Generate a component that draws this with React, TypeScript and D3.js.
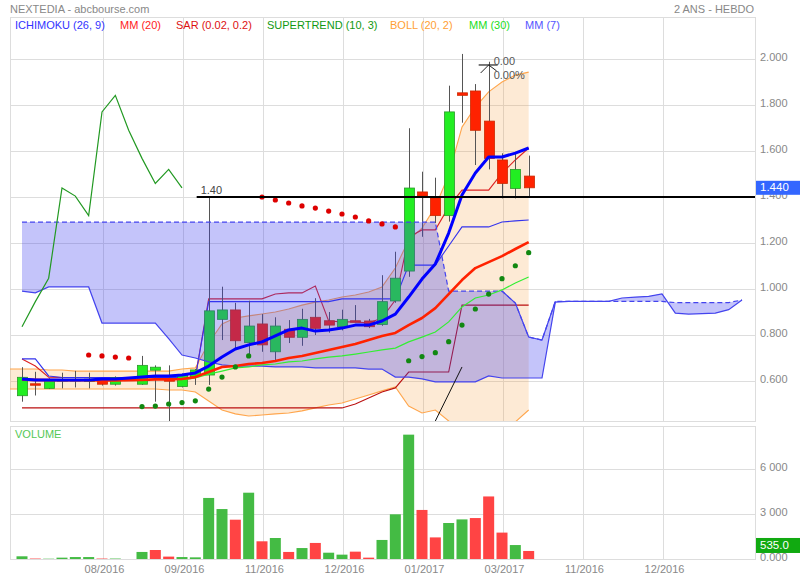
import React from "react";
import * as d3 from "d3";

// ---------- DATA ----------
const opens = [0.536, 0.588, 0.568, 0.6, 0.6, 0.598, 0.601, 0.586, 0.608, 0.586, 0.647, 0.609, 0.576, 0.619, 0.626, 0.868, 0.909, 0.767, 0.848, 0.727, 0.825, 0.79, 0.877, 0.862, 0.836, 0.862, 0.861, 0.846, 0.948, 1.078, 1.422, 1.396, 1.319, 1.853, 1.861, 1.73, 1.561, 1.437, 1.491];
const highs = [0.66, 0.64, 0.612, 0.636, 0.644, 0.636, 0.606, 0.62, 0.612, 0.709, 0.668, 0.668, 0.632, 0.652, 1.4, 1.01, 0.94, 0.949, 0.891, 0.877, 0.865, 0.914, 0.96, 0.9, 0.91, 0.93, 0.87, 1.06, 1.162, 1.699, 1.51, 1.484, 1.884, 2.022, 1.891, 1.988, 1.59, 1.59, 1.58];
const lows = [0.51, 0.537, 0.565, 0.568, 0.572, 0.568, 0.58, 0.58, 0.604, 0.583, 0.51, 0.4, 0.572, 0.583, 0.583, 0.778, 0.735, 0.7, 0.727, 0.691, 0.765, 0.753, 0.8, 0.81, 0.82, 0.855, 0.83, 0.84, 0.94, 1.053, 1.227, 1.287, 1.293, 1.723, 1.539, 1.52, 1.394, 1.394, 1.4];
const closes = [0.616, 0.584, 0.604, 0.606, 0.607, 0.608, 0.586, 0.615, 0.608, 0.668, 0.66, 0.599, 0.627, 0.648, 0.905, 0.909, 0.775, 0.839, 0.757, 0.839, 0.79, 0.868, 0.829, 0.843, 0.868, 0.86, 0.836, 0.945, 1.047, 1.439, 1.404, 1.319, 1.77, 1.842, 1.69, 1.568, 1.459, 1.52, 1.44];
const volumes = [180, 30, 20, 90, 130, 130, 30, 30, 0, 470, 600, 160, 130, 110, 4070, 3330, 2620, 4420, 1180, 1400, 470, 730, 1070, 420, 290, 490, 90, 1270, 2980, 8290, 3270, 1440, 2400, 2640, 2730, 4170, 1760, 930, 535];

const mm7 = [0.609, 0.604, 0.604, 0.604, 0.604, 0.604, 0.609, 0.609, 0.613, 0.617, 0.622, 0.622, 0.626, 0.635, 0.665, 0.704, 0.739, 0.757, 0.77, 0.796, 0.822, 0.83, 0.817, 0.822, 0.83, 0.843, 0.843, 0.861, 0.891, 0.965, 1.043, 1.109, 1.243, 1.409, 1.504, 1.574, 1.574, 1.591, 1.613];
const mm20 = [0.606, 0.605, 0.604, 0.603, 0.603, 0.603, 0.602, 0.602, 0.603, 0.605, 0.607, 0.607, 0.609, 0.617, 0.639, 0.661, 0.665, 0.674, 0.678, 0.687, 0.7, 0.709, 0.722, 0.735, 0.748, 0.761, 0.778, 0.796, 0.809, 0.843, 0.874, 0.917, 0.978, 1.039, 1.091, 1.117, 1.143, 1.174, 1.204];
const mm30 = [null, null, null, null, null, null, null, null, null, null, null, null, 0.604, 0.613, 0.63, 0.643, 0.657, 0.661, 0.67, 0.674, 0.683, 0.687, 0.696, 0.704, 0.709, 0.717, 0.726, 0.735, 0.743, 0.77, 0.791, 0.813, 0.857, 0.922, 0.961, 0.974, 0.996, 1.026, 1.052];
// Bollinger bands start one week before the first candle
const bollUpper = [0.652, 0.652, 0.652, 0.648, 0.648, 0.643, 0.643, 0.643, 0.643, 0.643, 0.643, 0.643, 0.643, 0.652, 0.657, 0.765, 0.848, 0.874, 0.883, 0.891, 0.9, 0.913, 0.93, 0.943, 0.952, 0.965, 0.974, 0.987, 1.009, 1.091, 1.213, 1.265, 1.357, 1.496, 1.704, 1.791, 1.857, 1.9, 1.93, 1.943];
const bollLower = [0.565, 0.565, 0.565, 0.565, 0.565, 0.565, 0.565, 0.565, 0.565, 0.565, 0.565, 0.565, 0.561, 0.561, 0.552, 0.513, 0.474, 0.457, 0.448, 0.452, 0.457, 0.461, 0.47, 0.483, 0.496, 0.504, 0.522, 0.539, 0.557, 0.574, 0.491, 0.461, 0.474, 0.426, 0.378, 0.343, 0.343, 0.361, 0.422, 0.474];
const tenkan = [0.696, 0.665, 0.617, 0.615, 0.615, 0.615, 0.615, 0.615, 0.615, 0.615, 0.615, 0.615, 0.615, 0.615, 0.957, 0.957, 0.957, 0.957, 0.957, 0.978, 0.983, 0.983, 1.013, 0.861, 0.857, 0.857, 0.852, 0.874, 0.952, 1.226, 1.257, 1.257, 1.357, 1.43, 1.43, 1.43, 1.504, 1.561, 1.613];
const kijun = [0.696, 0.696, 0.622, 0.615, 0.615, 0.615, 0.615, 0.615, 0.615, 0.615, 0.615, 0.615, 0.615, 0.615, 0.945, 0.945, 0.945, 0.945, 0.945, 0.945, 0.945, 0.945, 0.945, 0.945, 0.957, 0.957, 0.957, 0.957, 0.957, 1.104, 1.104, 1.104, 1.187, 1.27, 1.27, 1.27, 1.291, 1.296, 1.3];
const supertrend = [0.483, 0.483, 0.483, 0.483, 0.483, 0.483, 0.483, 0.483, 0.483, 0.483, 0.483, 0.483, 0.483, 0.483, 0.483, 0.483, 0.483, 0.483, 0.483, 0.483, 0.483, 0.483, 0.483, 0.483, 0.483, 0.5, 0.526, 0.552, 0.57, 0.639, 0.639, 0.639, 0.639, 0.93, 0.93, 0.93, 0.93, 0.93, 0.93];
const sar = [null, null, null, null, null, 0.713, 0.709, 0.704, 0.7, 0.489, 0.491, 0.5, 0.506, 0.514, 0.565, 0.617, 0.661, 0.709, 1.4, 1.387, 1.374, 1.361, 1.352, 1.339, 1.326, 1.313, 1.296, 1.283, 1.27, 0.688, 0.706, 0.723, 0.771, 0.843, 0.913, 0.978, 1.045, 1.101, 1.158];
const senkouA = [0.991, 0.983, 1.009, 1.009, 1.009, 1.009, 0.852, 0.852, 0.852, 0.852, 0.852, 0.784, 0.713, 0.7, 0.683, 0.67, 0.665, 0.665, 0.665, 0.661, 0.661, 0.661, 0.657, 0.657, 0.657, 0.657, 0.652, 0.652, 0.617, 0.617, 0.609, 0.596, 0.596, 0.596, 0.596, 0.622, 0.613, 0.613, 0.613, 0.613, 0.943, 0.946, 0.946, 0.946, 0.946, 0.961, 0.965, 0.968, 0.979, 0.895, 0.891, 0.893, 0.895, 0.91, 0.952];
const senkouB = [1.291, 1.291, 1.291, 1.291, 1.291, 1.291, 1.291, 1.291, 1.291, 1.291, 1.291, 1.291, 1.291, 1.291, 1.291, 1.291, 1.291, 1.291, 1.291, 1.291, 1.291, 1.291, 1.291, 1.291, 1.291, 1.291, 1.291, 1.291, 1.291, 1.291, 1.291, 1.291, 0.991, 0.991, 0.991, 0.991, 0.991, 0.939, 0.791, 0.778, 0.946, 0.946, 0.946, 0.946, 0.946, 0.946, 0.946, 0.946, 0.946, 0.941, 0.941, 0.941, 0.941, 0.941, 0.952];

const priceTicks = [2.0, 1.8, 1.6, 1.4, 1.2, 1.0, 0.8, 0.6];
const volumeTicks = [0, 3000, 6000];
const volumeTickLabels = ["0.000", "3 000", "6 000"];
const dateTickIdx = [6, 12, 18, 24, 30, 36, 42, 48];
const dateTickLabels = ["08/2016", "09/2016", "11/2016", "12/2016", "01/2017", "03/2017", "11/2016", "12/2016"];

const legendLabels = ["ICHIMOKU (26, 9)", "MM (20)", "SAR (0.02, 0.2)", "SUPERTREND (10, 3)", "BOLL (20, 2)", "MM (30)", "MM (7)"];
const titleText = "NEXTEDIA - abcbourse.com";
const periodText = "2 ANS - HEBDO";

const levelLine = { value: 1.4, fromIdx: 13.1, label: "1.40" };
const trendLine = [{ idx: 31, value: 0.426 }, { idx: 33, value: 0.661 }];
const arrowMark = { idx: 35, value: 1.974, labels: ["0.00", "0.00%"] };

// ---------- LAYOUT / STYLE ----------
const FONT = "'Liberation Sans', Arial, Helvetica, sans-serif";
const legendX = [15, 120, 176, 267, 390, 469, 525];
const legendColors = ["#3333ff", "#ff2222", "#dd1111", "#119911", "#ffa033", "#22dd22", "#5555ff"];
const L = 10, R = 755, T = 17, B = 421, VT = 426, VB = 559;

export default function App() {
  const x = d3.scaleLinear().domain([0, 54]).range([22, 742]);
  const y = d3.scaleLinear().domain([0.6, 2.0]).range([381, 59]);
  const yv = d3.scaleLinear().domain([0, 6000]).range([VB, 469]);

  const mkLine = (vals: (number | null)[], off = 0) =>
    d3
      .line<number | null>()
      .defined((d) => d !== null && d !== undefined)
      .x((_, i) => x(i + off))
      .y((d) => y(d as number))(vals) || "";

  const bollArea =
    d3
      .area<number>()
      .x((_, i) => x(i - 1))
      .y0((_, i) => y(bollLower[i]))
      .y1((d) => y(d))(bollUpper) || "";

  const cloudArea =
    d3
      .area<number>()
      .x((_, i) => x(i))
      .y0((d) => y(d))
      .y1((_, i) => y(senkouB[i]))(senkouA) || "";

  const chikou = closes.slice(26);
  const spanBSolid = senkouB.map((v, i) => (i >= 36 && i <= 40 ? v : null));

  const gx = (i: number) => Math.round(x(i)) + 1.5;
  const lastClose = closes[closes.length - 1];
  const lastVol = volumes[volumes.length - 1];

  const ax = x(arrowMark.idx);
  const ay = y(arrowMark.value);

  return (
    <svg width={800} height={580} style={{ position: "absolute", left: 0, top: 0, background: "#fff" }} fontFamily={FONT}>
      <defs>
        <clipPath id="mainClip">
          <rect x={L} y={T} width={R - L} height={B - T} />
        </clipPath>
        <clipPath id="volClip">
          <rect x={L} y={VT} width={R - L} height={VB - VT} />
        </clipPath>
      </defs>

      {/* grids */}
      <g stroke="#dddddd" strokeWidth={1} shapeRendering="crispEdges">
        {priceTicks.map((v) => (
          <line key={"pg" + v} x1={L} x2={R} y1={Math.round(y(v)) + 0.5} y2={Math.round(y(v)) + 0.5} />
        ))}
        {volumeTicks.map((v) => (
          <line key={"vg" + v} x1={L} x2={R} y1={Math.round(yv(v)) + 0.5} y2={Math.round(yv(v)) + 0.5} />
        ))}
        {dateTickIdx.map((i) => (
          <g key={"dg" + i}>
            <line x1={gx(i)} x2={gx(i)} y1={T} y2={B} />
            <line x1={gx(i)} x2={gx(i)} y1={VT} y2={VB} />
          </g>
        ))}
        <rect x={L + 0.5} y={T + 0.5} width={R - L} height={B - T} fill="none" />
        <rect x={L + 0.5} y={VT + 0.5} width={R - L} height={VB - VT} fill="none" />
      </g>

      {/* title */}
      <text x={10} y={13} fontSize={11} fill="#888">{titleText}</text>
      <text x={754} y={13} fontSize={11} fill="#888" textAnchor="end">{periodText}</text>

      {/* legend */}
      {legendLabels.map((lab, k) => (
        <text key={lab} x={legendX[k]} y={29} fontSize={11} fill={legendColors[k]}>{lab}</text>
      ))}

      <g clipPath="url(#mainClip)">
        {/* Bollinger */}
        <path d={bollArea} fill="#f5a040" fillOpacity={0.22} />
        <path d={mkLine(bollUpper, -1)} fill="none" stroke="#ffa64d" strokeWidth={1.1} />
        <path d={mkLine(bollLower, -1)} fill="none" stroke="#ffa64d" strokeWidth={1.1} />

        {/* supertrend, tenkan, kijun */}
        <path d={mkLine(supertrend)} fill="none" stroke="#bb1111" strokeWidth={1.1} />
        <path d={mkLine(tenkan)} fill="none" stroke="#dd2222" strokeWidth={1.1} />
        <path d={mkLine(kijun)} fill="none" stroke="#3333ee" strokeWidth={1.1} />

        {/* candles */}
        {opens.map((o, i) => {
          const c = closes[i];
          const up = c >= o;
          const cx = Math.round(x(i)) + 0.5;
          const top = y(Math.max(o, c));
          const bot = y(Math.min(o, c));
          return (
            <g key={"c" + i}>
              <line x1={cx} x2={cx} y1={y(highs[i])} y2={y(lows[i])} stroke="#555" strokeWidth={1} />
              <rect
                x={cx - 5}
                y={top}
                width={10}
                height={Math.max(1.5, bot - top)}
                fill={up ? "#22ee22" : "#ff2200"}
                stroke={up ? "#2a9a2a" : "#cc2a00"}
                strokeWidth={0.8}
              />
            </g>
          );
        })}

        {/* Ichimoku cloud */}
        <path d={cloudArea} fill="#3c3cf0" fillOpacity={0.3} />
        <path d={mkLine(senkouA)} fill="none" stroke="#4444ee" strokeWidth={1.2} />
        <path d={mkLine(senkouB)} fill="none" stroke="#4444ee" strokeWidth={1.2} strokeDasharray="5,3" />
        <path d={mkLine(spanBSolid)} fill="none" stroke="#4444ee" strokeWidth={1.2} />

        {/* moving averages */}
        <path d={mkLine(mm30)} fill="none" stroke="#33ee33" strokeWidth={1.2} />
        <path d={mkLine(mm20)} fill="none" stroke="#ff2200" strokeWidth={2.6} strokeLinejoin="round" />
        <path d={mkLine(mm7)} fill="none" stroke="#0000ff" strokeWidth={3} strokeLinejoin="round" />

        {/* chikou */}
        <path d={mkLine(chikou)} fill="none" stroke="#229922" strokeWidth={1.2} />

        {/* SAR */}
        {sar.map((s, i) =>
          s === null ? null : (
            <circle key={"s" + i} cx={x(i)} cy={y(s)} r={2.6} fill={s > closes[i] ? "#dd0000" : "#118811"} />
          )
        )}

        {/* annotations */}
        <line x1={x(levelLine.fromIdx)} x2={R} y1={y(levelLine.value)} y2={y(levelLine.value)} stroke="#000" strokeWidth={2} />
        <text x={x(levelLine.fromIdx) + 4} y={y(levelLine.value) - 3} fontSize={11} fill="#444">{levelLine.label}</text>
        <line
          x1={x(trendLine[0].idx)}
          y1={y(trendLine[0].value)}
          x2={x(trendLine[1].idx)}
          y2={y(trendLine[1].value)}
          stroke="#111"
          strokeWidth={1}
        />
        <line x1={ax - 10} x2={ax + 9} y1={ay} y2={ay} stroke="#222" strokeWidth={1.2} />
        <polyline points={`${ax - 8},${ay + 8} ${ax},${ay} ${ax + 8},${ay + 6}`} fill="none" stroke="#222" strokeWidth={1} />
        <text x={ax + 5} y={ay} fontSize={11} fill="#555">{arrowMark.labels[0]}</text>
        <text x={ax + 5} y={ay + 14} fontSize={11} fill="#555">{arrowMark.labels[1]}</text>
      </g>

      {/* volume */}
      <g clipPath="url(#volClip)">
        {volumes.map((v, i) => {
          const up = i === 0 || closes[i] >= closes[i - 1];
          return (
            <rect key={"v" + i} x={x(i) - 5.5} y={yv(v)} width={11} height={VB - yv(v)} fill={up ? "#44bb44" : "#ff4444"} />
          );
        })}
      </g>
      <text x={15} y={438} fontSize={11} fill="#55c855">VOLUME</text>

      {/* right axis labels */}
      {priceTicks.map((v) => (
        <text key={"pl" + v} x={760} y={y(v) + 2} fontSize={11} fill="#888">{d3.format(".3f")(v)}</text>
      ))}
      {volumeTicks.map((v, k) => (
        <text key={"vl" + v} x={760} y={yv(v) + 2} fontSize={11} fill="#888">{volumeTickLabels[k]}</text>
      ))}

      {/* last value boxes */}
      <rect x={756} y={y(lastClose) - 7} width={44} height={14} fill="#3366ff" />
      <text x={760} y={y(lastClose) + 3} fontSize={11.5} fill="#fff">{d3.format(".3f")(lastClose)}</text>
      <rect x={756} y={yv(lastVol) - 13} width={44} height={15} fill="#11aa11" />
      <text x={760} y={yv(lastVol) - 1.5} fontSize={11.5} fill="#fff">{d3.format(".1f")(lastVol)}</text>

      {/* date labels */}
      {dateTickIdx.map((i, k) => (
        <text key={"dl" + i} x={gx(i) + 1} y={573} fontSize={11} fill="#888" textAnchor="middle">{dateTickLabels[k]}</text>
      ))}
    </svg>
  );
}
